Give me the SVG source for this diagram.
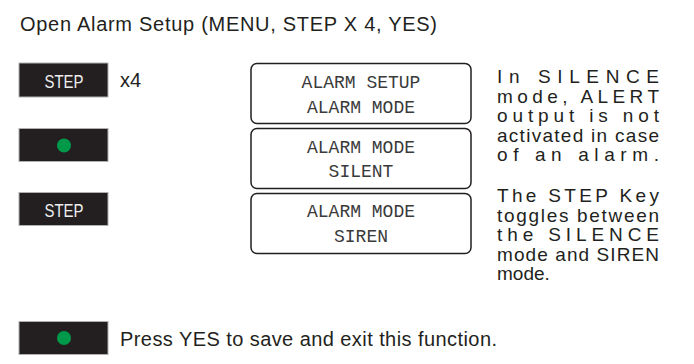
<svg xmlns="http://www.w3.org/2000/svg" width="694" height="364" viewBox="0 0 694 364">
<style>
.t{font-family:"Liberation Sans",Arial,sans-serif;font-size:20px;fill:#231f20}
.n{font-family:"Liberation Sans",Arial,sans-serif;font-size:19px;fill:#231f20}
.btn{fill:#231f20;stroke:#b0b0b0;stroke-width:1}
.bl{font-family:"Liberation Sans",Arial,sans-serif;font-size:18px;fill:#eeeeee;text-anchor:middle}
.led{fill:#00994a}
.lcd{fill:#ffffff;stroke:#231f20;stroke-width:1.5}
.lt{font-family:"Liberation Mono","DejaVu Sans Mono",monospace;font-size:18px;fill:#3a3a3a;text-anchor:middle}
</style>
<rect width="694" height="364" fill="#ffffff"/>
<text class="t" x="20" y="31" textLength="417" lengthAdjust="spacing">Open Alarm Setup (MENU, STEP X 4, YES)</text>
<g id="step1">
<rect class="btn" x="19" y="63" width="89" height="34"/>
<text class="bl" x="64" y="88" textLength="39" lengthAdjust="spacingAndGlyphs">STEP</text>
</g>
<text class="t" x="120" y="87">x4</text>
<g id="yes1">
<rect class="btn" x="19" y="128.5" width="89" height="33"/>
<circle class="led" cx="64" cy="145.5" r="7"/>
</g>
<g id="step2">
<rect class="btn" x="19" y="192.5" width="89" height="33"/>
<text class="bl" x="64" y="216.5" textLength="39" lengthAdjust="spacingAndGlyphs">STEP</text>
</g>
<g id="yes2">
<rect class="btn" x="19" y="321.5" width="89" height="33"/>
<circle class="led" cx="64" cy="338" r="7"/>
</g>
<g id="lcd1">
<rect class="lcd" x="251" y="63.5" width="220" height="60" rx="6"/>
<text class="lt" x="361" y="88">ALARM SETUP</text>
<text class="lt" x="361" y="113">ALARM MODE</text>
</g>
<g id="lcd2">
<rect class="lcd" x="251" y="128.5" width="220" height="60" rx="6"/>
<text class="lt" x="361" y="153">ALARM MODE</text>
<text class="lt" x="361" y="177">SILENT</text>
</g>
<g id="lcd3">
<rect class="lcd" x="251" y="193.5" width="220" height="60" rx="6"/>
<text class="lt" x="361" y="217">ALARM MODE</text>
<text class="lt" x="361" y="242">SIREN</text>
</g>
<g id="connectors"></g>
<g id="note1">
<text class="n" x="497" y="83" textLength="162" lengthAdjust="spacing">In SILENCE</text>
<text class="n" x="497" y="102.5" textLength="162" lengthAdjust="spacing">mode, ALERT</text>
<text class="n" x="497" y="122" textLength="162" lengthAdjust="spacing">output is not</text>
<text class="n" x="497" y="141.5" textLength="162" lengthAdjust="spacing">activated in case</text>
<text class="n" x="497" y="161" textLength="162" lengthAdjust="spacing">of an alarm.</text>
</g>
<g id="note2">
<text class="n" x="497" y="202" textLength="162" lengthAdjust="spacing">The STEP Key</text>
<text class="n" x="497" y="221.5" textLength="162" lengthAdjust="spacing">toggles between</text>
<text class="n" x="497" y="241" textLength="162" lengthAdjust="spacing">the SILENCE</text>
<text class="n" x="497" y="260.5" textLength="162" lengthAdjust="spacing">mode and SIREN</text>
<text class="n" x="497" y="280">mode.</text>
</g>
<text class="t" x="120" y="345.5" textLength="377" lengthAdjust="spacing">Press YES to save and exit this function.</text>
</svg>
